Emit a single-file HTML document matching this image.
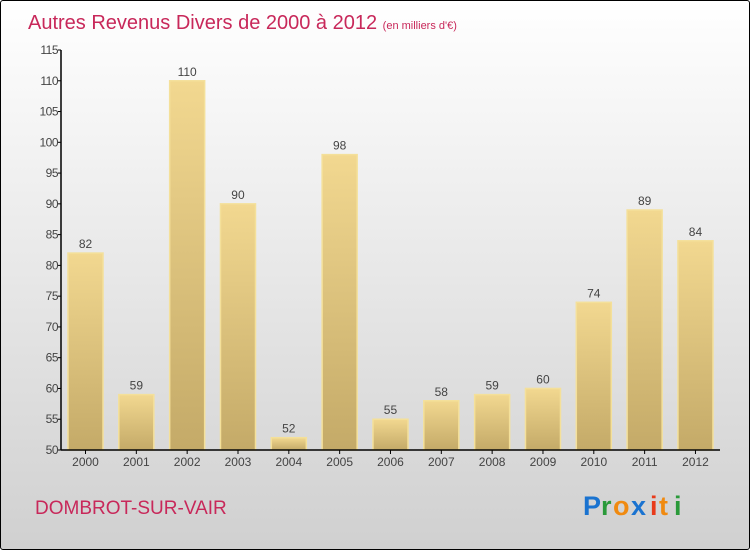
<!DOCTYPE html>
<html><head><meta charset="utf-8"><style>
html,body{margin:0;padding:0}
body{width:750px;height:550px;overflow:hidden;font-family:"Liberation Sans",sans-serif}
#wrap{position:absolute;left:0;top:0;width:748px;height:548px;border:1px solid #000;border-radius:3px;background:linear-gradient(#ffffff,#d0d0d0)}
</style></head><body>
<div id="wrap">
<svg width="750" height="550" style="position:absolute;left:-1px;top:-1px">
<defs>
<linearGradient id="bg" x1="0" y1="0" x2="0" y2="1"><stop offset="0" stop-color="#f2d890"/><stop offset="1" stop-color="#c4aa68"/></linearGradient>
</defs>
<text x="28" y="29" font-size="20" fill="#c8285a">Autres Revenus Divers de 2000 à 2012 <tspan font-size="11">(en milliers d'€)</tspan></text>
<g id="bars"></g>
<g id="axes"></g>
<text x="35" y="514" font-size="19" fill="#c8285a">DOMBROT-SUR-VAIR</text>
<g font-size="27" font-weight="bold" font-family="Liberation Sans, sans-serif">
<text x="583" y="515" fill="#1a73d0">P</text><text x="601" y="515" fill="#2a9a3a">r</text><text x="613" y="515" fill="#f08a10">o</text><text x="631" y="515" fill="#1a73d0">x</text><text x="650" y="515" fill="#e83a1a">i</text><text x="659" y="515" fill="#f08a10">t</text><text x="674" y="515" fill="#2a9a3a">i</text>
</g>
</svg>
</div>
<script>
const years=["2000","2001","2002","2003","2004","2005","2006","2007","2008","2009","2010","2011","2012"];
const values=[82,59,110,90,52,98,55,58,59,60,74,89,84];
const ticks=[50,55,60,65,70,75,80,85,90,95,100,105,110,115];
const NS="http://www.w3.org/2000/svg";
const y=v=>450-(v-50)*400/65;
const x=i=>85.5+i*50.83;
const bars=document.getElementById('bars'),axes=document.getElementById('axes');
function mk(tag,at,p){const e=document.createElementNS(NS,tag);for(const k in at)e.setAttribute(k,at[k]);p.appendChild(e);return e;}
values.forEach((v,i)=>{
 const r=mk('rect',{x:x(i)-17.5,y:y(v),width:35,height:450-y(v),fill:'url(#bg)',stroke:'#f4e09a','stroke-width':1.5},bars);
 
 
 const t=mk('text',{x:x(i),y:y(v)-5,'text-anchor':'middle','font-size':12,fill:'#444'},bars);
 t.textContent=v;
 
 
 const l=mk('text',{x:x(i),y:466,'text-anchor':'middle','font-size':12,fill:'#444'},axes);
 l.textContent=years[i];
 
 
 mk('line',{x1:x(i),x2:x(i),y1:450,y2:454,stroke:'#000'},axes);
});
ticks.forEach(t=>{
 mk('line',{x1:58,x2:61,y1:y(t),y2:y(t),stroke:'#000'},axes);
 const l=mk('text',{x:58,y:y(t)+4,'text-anchor':'end','font-size':12,fill:'#444','letter-spacing':'-0.5'},axes);
 l.textContent=t;
 
 
});
const ya=mk('line',{x1:61,x2:61,y1:50,y2:450,stroke:'#000','stroke-width':1.5},axes);


const xa=mk('line',{x1:61,x2:720,y1:450,y2:450,stroke:'#000','stroke-width':1.5},axes);


</script>
</body></html>
